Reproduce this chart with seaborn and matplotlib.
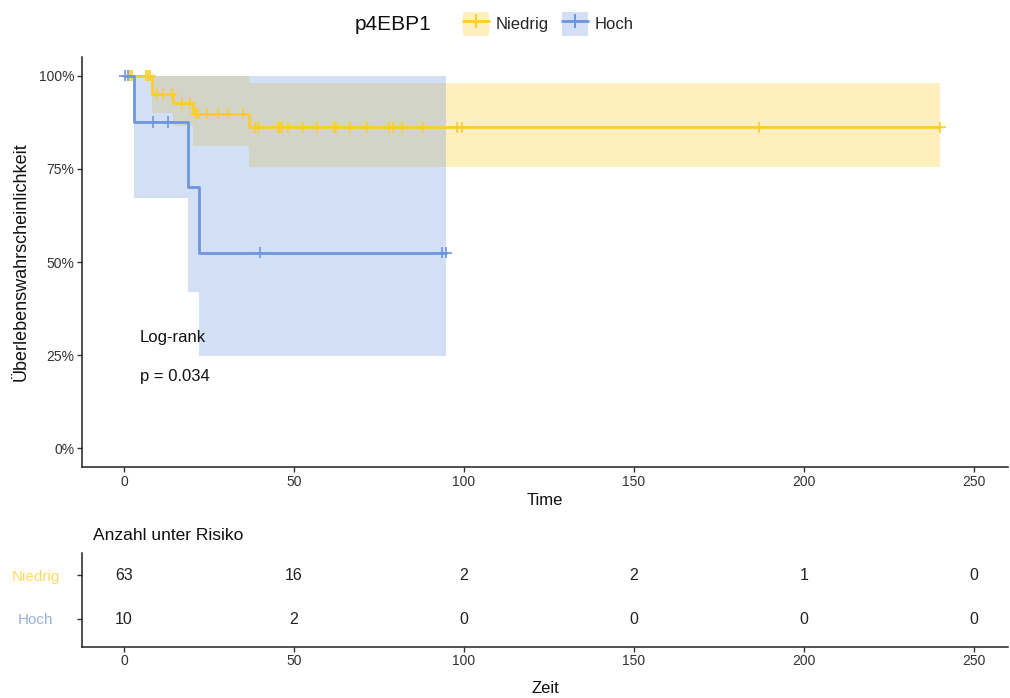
import numpy as np
import pandas as pd
import matplotlib
matplotlib.use("Agg")
import matplotlib.pyplot as plt
from matplotlib.patches import Patch
from matplotlib.lines import Line2D
import seaborn as sns

# Kaplan-Meier step estimates per group (time, survival, 95% CI)
groups = ["Niedrig", "Hoch"]

niedrig_time = [0.0, 8.1, 14.5, 20.4, 36.7, 240.0]
niedrig_surv = [1.0, 0.952, 0.927, 0.898, 0.861, 0.861]
niedrig_lower = [1.0, 0.900, 0.866, 0.812, 0.754, 0.754]
niedrig_upper = [1.0, 1.0, 1.0, 1.0, 0.981, 0.981]

hoch_time = [0.0, 3.0, 18.7, 22.2, 94.8]
hoch_surv = [1.0, 0.875, 0.700, 0.525, 0.525]
hoch_lower = [1.0, 0.673, 0.420, 0.247, 0.247]
hoch_upper = [1.0, 1.0, 1.0, 1.0, 1.0]

# Censoring times
niedrig_censor = [1.8, 2.4, 6.6, 7.2, 7.7, 9.6, 11.6, 14.0, 17.1, 19.5, 21.2, 21.9,
                  24.3, 27.7, 30.7, 35.1, 38.5, 39.5, 45.3, 45.8, 46.4, 48.3, 52.7,
                  56.7, 61.8, 62.5, 66.5, 71.4, 78.0, 79.2, 81.9, 87.8, 98.0, 99.3,
                  186.8, 240.0]
hoch_censor = [0.3, 1.2, 8.6, 13.0, 40.0, 93.5, 94.8]

# Number at risk table
risk_times = [0, 50, 100, 150, 200, 250]
niedrig_risk = [63, 16, 2, 2, 1, 0]
hoch_risk = [10, 2, 0, 0, 0, 0]

x_ticks = [0, 50, 100, 150, 200, 250]
y_ticks = [0.0, 0.25, 0.5, 0.75, 1.0]
y_tick_labels = ["0%", "25%", "50%", "75%", "100%"]

pvalue_text = "p = 0.034"

colors = {"Niedrig": "#FFCC2E", "Hoch": "#6E96DE"}
label_colors = {"Niedrig": "#FFD966", "Hoch": "#95B0E3"}

sns.set_theme(style="white")
plt.rcParams["font.family"] = ["Liberation Sans", "DejaVu Sans"]
plt.rcParams["axes.edgecolor"] = "#222222"
plt.rcParams["xtick.color"] = "#333333"
plt.rcParams["ytick.color"] = "#333333"

curves = {
    "Niedrig": (niedrig_time, niedrig_surv, niedrig_lower, niedrig_upper, niedrig_censor),
    "Hoch": (hoch_time, hoch_surv, hoch_lower, hoch_upper, hoch_censor),
}

step_rows, cens_rows = [], []
for g, (t, s, lo, up, cens) in curves.items():
    for ti, si in zip(t, s):
        step_rows.append({"time": ti, "surv": si, "group": g})
    t_arr, s_arr = np.asarray(t), np.asarray(s)
    for c in cens:
        idx = np.searchsorted(t_arr, c, side="right") - 1
        cens_rows.append({"time": c, "surv": s_arr[idx], "group": g})
steps = pd.DataFrame(step_rows)
censored = pd.DataFrame(cens_rows)

fig = plt.figure(figsize=(10.1, 6.98), dpi=100)
W, H = 1010, 698
ax = fig.add_axes([82 / W, 1 - 467 / H, (1008 - 82) / W, (467 - 57) / H])
ax_r = fig.add_axes([82 / W, 1 - 646.5 / H, (1008 - 82) / W, (646.5 - 553) / H])

# Confidence bands
for g, (t, s, lo, up, cens) in curves.items():
    ax.fill_between(t, lo, up, step="post", color=colors[g], alpha=0.3, linewidth=0)

sns.lineplot(data=steps, x="time", y="surv", hue="group", hue_order=groups,
             palette=colors, drawstyle="steps-post", estimator=None,
             linewidth=2.0, legend=False, ax=ax)
sns.scatterplot(data=censored, x="time", y="surv", hue="group", hue_order=groups,
                palette=colors, marker="+", s=70, linewidth=1.2, legend=False, ax=ax)

ax.text(4.7, 0.298, "Log-rank", fontsize=12, ha="left", va="center", color="#111111")
ax.text(4.7, 0.193, pvalue_text, fontsize=12, ha="left", va="center", color="#111111")

ax.set_xlim(-12.35, 260)
ax.set_ylim(-0.05, 1.05)
ax.set_xticks(x_ticks)
ax.set_xticklabels([str(v) for v in x_ticks], fontsize=10)
ax.set_yticks(y_ticks)
ax.set_yticklabels(y_tick_labels, fontsize=10)
ax.set_xlabel("Time", fontsize=12, labelpad=3, color="#111111")
ax.set_ylabel("Überlebenswahrscheinlichkeit", fontsize=13, labelpad=7, color="#111111")
for a in (ax, ax_r):
    sns.despine(ax=a)
    a.spines["left"].set_linewidth(1.1)
    a.spines["bottom"].set_linewidth(1.1)
    a.tick_params(axis="both", bottom=True, left=True, length=3.5, width=1.0,
                  color="#333333", pad=2, labelcolor="#333333")

# Legend across the top
handles = [(Patch(facecolor=colors[g], alpha=0.3, edgecolor="none"),
            Line2D([], [], color=colors[g], lw=2.0, marker="+", ms=10, mew=1.4))
           for g in groups]
fig.text(355 / W, 1 - 24 / H, "p4EBP1", fontsize=15, ha="left", va="center",
         color="#111111")
fig.legend(handles, groups, loc="center", bbox_to_anchor=(548 / W, 1 - 24 / H),
           ncol=2, frameon=False, fontsize=12, handlelength=1.6, handleheight=1.9,
           handletextpad=0.35, columnspacing=0.8, borderpad=0)

# Number at risk table
for g, counts, row in (("Niedrig", niedrig_risk, 2), ("Hoch", hoch_risk, 1)):
    for t, n in zip(risk_times, counts):
        ax_r.text(t, row, str(n), ha="center", va="center", fontsize=11.5,
                  color="#222222")
ax_r.set_xlim(-12.35, 260)
ax_r.set_ylim(0.375, 2.5)
ax_r.set_xticks(x_ticks)
ax_r.set_xticklabels([str(v) for v in x_ticks], fontsize=10)
ax_r.set_yticks([2, 1])
ax_r.set_yticklabels(groups, fontsize=11)
ax_r.tick_params(axis="y", pad=30)
for lab, g in zip(ax_r.get_yticklabels(), groups):
    lab.set_color(label_colors[g])
    lab.set_horizontalalignment("center")
ax_r.set_xlabel("Zeit", fontsize=12, labelpad=9, color="#111111")
ax_r.set_ylabel("")
fig.text(93 / W, 1 - 535 / H, "Anzahl unter Risiko", fontsize=12.5, ha="left",
         va="center", color="#111111")

fig.savefig("out.png", dpi=100)
